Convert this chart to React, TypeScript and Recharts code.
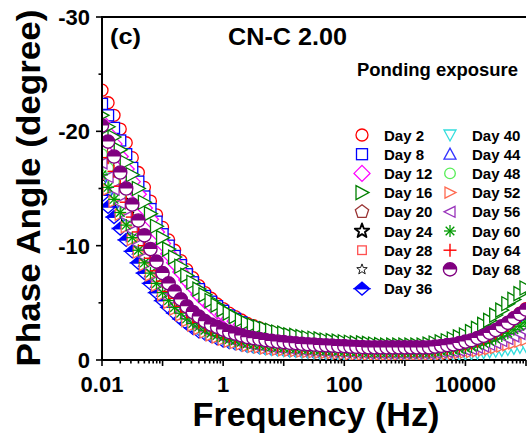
import { LineChart, Line, XAxis, YAxis, ReferenceLine } from 'recharts';

// frequency (Hz), 10 points per decade
const freq = [
  0.01, 0.0126, 0.0158, 0.02, 0.0251, 0.0316, 0.0398, 0.0501, 0.0631, 0.0794,
  0.1, 0.126, 0.158, 0.2, 0.251, 0.316, 0.398, 0.501, 0.631, 0.794,
  1, 1.26, 1.58, 2, 2.51, 3.16, 3.98, 5.01, 6.31, 7.94,
  10, 12.6, 15.8, 20, 25.1, 31.6, 39.8, 50.1, 63.1, 79.4,
  100, 126, 158, 200, 251, 316, 398, 501, 631, 794,
  1000, 1260, 1580, 2000, 2510, 3160, 3980, 5010, 6310, 7940,
  10000, 12600, 15800, 20000, 25100, 31600, 39800, 50100, 63100, 79400,
  100000,
];

// phase angle (degree)
const day2 = [
  -23.6, -22.5, -21.4, -20.2, -19.0, -17.7, -16.4, -15.1, -13.9, -12.7,
  -11.6, -10.5, -9.6, -8.7, -7.9, -7.2, -6.5, -5.9, -5.4, -4.9,
  -4.5, -4.1, -3.8, -3.5, -3.2, -3.0, -2.8, -2.6, -2.45, -2.3,
  -2.2, -2.05, -1.95, -1.85, -1.75, -1.65, -1.6, -1.5, -1.45, -1.4,
  -1.35, -1.3, -1.25, -1.2, -1.15, -1.1, -1.05, -1.0, -1.0, -1.0,
  -1.0, -1.0, -1.0, -1.0, -1.0, -1.07, -1.14, -1.21, -1.28, -1.4,
  -1.54, -1.67, -1.88, -2.09, -2.35, -2.61, -2.96, -3.28, -3.7, -4.1,
  -4.5,
];
const day8 = [
  -22.4, -21.4, -20.3, -19.2, -18.0, -16.8, -15.6, -14.3, -13.2, -12.1,
  -11.0, -10.0, -9.1, -8.3, -7.5, -6.8, -6.2, -5.6, -5.1, -4.7,
  -4.3, -3.9, -3.6, -3.3, -3.0, -2.85, -2.65, -2.5, -2.3, -2.2,
  -2.1, -1.95, -1.85, -1.75, -1.65, -1.55, -1.5, -1.4, -1.4, -1.35,
  -1.25, -1.25, -1.2, -1.15, -1.1, -1.05, -1.0, -0.95, -0.95, -0.95,
  -0.95, -0.95, -0.95, -0.95, -0.95, -1.01, -1.07, -1.13, -1.19, -1.3,
  -1.41, -1.52, -1.7, -1.88, -2.11, -2.33, -2.63, -2.9, -3.26, -3.61,
  -3.95,
];
const day12 = [
  -20.8, -19.8, -18.9, -17.8, -16.7, -15.6, -14.5, -13.3, -12.3, -11.2,
  -10.2, -9.3, -8.5, -7.7, -7.0, -6.4, -5.7, -5.2, -4.8, -4.3,
  -4.0, -3.6, -3.4, -3.1, -2.8, -2.65, -2.5, -2.3, -2.2, -2.05,
  -1.95, -1.8, -1.75, -1.65, -1.55, -1.5, -1.45, -1.35, -1.3, -1.25,
  -1.2, -1.15, -1.1, -1.1, -1.05, -1.0, -0.95, -0.9, -0.9, -0.9,
  -0.9, -0.9, -0.9, -0.9, -0.9, -0.96, -1.01, -1.07, -1.12, -1.22,
  -1.33, -1.43, -1.6, -1.77, -1.98, -2.19, -2.47, -2.72, -3.06, -3.38,
  -3.7,
];
const day16 = [
  -21.4, -20.4, -19.5, -18.4, -17.3, -16.2, -15.0, -13.8, -12.8, -11.7,
  -10.7, -9.7, -9.0, -8.2, -7.4, -6.8, -6.2, -5.7, -5.2, -4.8,
  -4.4, -4.1, -3.8, -3.5, -3.25, -3.05, -2.9, -2.75, -2.6, -2.45,
  -2.35, -2.2, -2.15, -2.05, -1.95, -1.9, -1.85, -1.75, -1.7, -1.65,
  -1.6, -1.55, -1.5, -1.5, -1.45, -1.4, -1.35, -1.3, -1.3, -1.3,
  -1.3, -1.3, -1.3, -1.3, -1.39, -1.49, -1.58, -1.68, -1.84, -2.02,
  -2.19, -2.48, -2.76, -3.11, -3.46, -3.93, -4.36, -4.92, -5.3, -5.8,
  -6.3,
];
const day20 = [
  -18.5, -17.2, -16.0, -14.7, -13.5, -12.2, -10.9, -9.7, -8.6, -7.6,
  -6.7, -5.8, -5.2, -4.6, -4.0, -3.6, -3.2, -2.9, -2.6, -2.35,
  -2.15, -1.97, -1.83, -1.69, -1.55, -1.47, -1.4, -1.31, -1.24, -1.19,
  -1.14, -1.09, -1.06, -1.0, -0.97, -0.94, -0.9, -0.87, -0.85, -0.82,
  -0.8, -0.77, -0.75, -0.73, -0.7, -0.7, -0.7, -0.7, -0.7, -0.7,
  -0.7, -0.7, -0.7, -0.7, -0.7, -0.75, -0.81, -0.86, -0.92, -1.01,
  -1.12, -1.21, -1.38, -1.54, -1.74, -1.94, -2.21, -2.46, -2.78, -3.09,
  -3.4,
];
const day24 = [
  -17.5, -16.3, -15.2, -13.9, -12.7, -11.5, -10.3, -9.1, -8.1, -7.2,
  -6.3, -5.5, -4.9, -4.3, -3.8, -3.4, -3.0, -2.7, -2.4, -2.2,
  -2.0, -1.82, -1.7, -1.56, -1.43, -1.35, -1.28, -1.2, -1.13, -1.08,
  -1.03, -0.98, -0.95, -0.9, -0.87, -0.83, -0.8, -0.77, -0.75, -0.72,
  -0.7, -0.67, -0.65, -0.63, -0.6, -0.6, -0.6, -0.6, -0.6, -0.6,
  -0.6, -0.6, -0.6, -0.6, -0.6, -0.65, -0.71, -0.76, -0.82, -0.91,
  -1.02, -1.11, -1.28, -1.44, -1.64, -1.84, -2.11, -2.36, -2.68, -2.99,
  -3.3,
];
const day28 = [
  -17.8, -16.6, -15.4, -14.2, -12.9, -11.7, -10.4, -9.3, -8.2, -7.3,
  -6.4, -5.6, -4.9, -4.3, -3.8, -3.4, -3.0, -2.7, -2.4, -2.2,
  -2.0, -1.83, -1.71, -1.57, -1.44, -1.35, -1.29, -1.2, -1.14, -1.09,
  -1.03, -0.98, -0.95, -0.9, -0.87, -0.83, -0.8, -0.77, -0.75, -0.72,
  -0.7, -0.67, -0.65, -0.63, -0.6, -0.6, -0.6, -0.6, -0.6, -0.6,
  -0.6, -0.6, -0.6, -0.6, -0.6, -0.64, -0.68, -0.72, -0.76, -0.83,
  -0.91, -0.98, -1.1, -1.22, -1.37, -1.52, -1.72, -1.9, -2.14, -2.37,
  -2.6,
];
const day32 = [
  -16.8, -15.6, -14.6, -13.4, -12.2, -11.0, -9.9, -8.8, -7.8, -6.9,
  -6.1, -5.3, -4.7, -4.1, -3.7, -3.3, -2.9, -2.6, -2.4, -2.1,
  -1.96, -1.79, -1.67, -1.53, -1.4, -1.33, -1.26, -1.18, -1.12, -1.07,
  -1.02, -0.98, -0.94, -0.89, -0.86, -0.83, -0.79, -0.77, -0.75, -0.72,
  -0.7, -0.67, -0.65, -0.63, -0.6, -0.6, -0.6, -0.6, -0.6, -0.6,
  -0.6, -0.6, -0.6, -0.6, -0.6, -0.65, -0.7, -0.75, -0.8, -0.89,
  -0.99, -1.08, -1.23, -1.38, -1.56, -1.75, -2.0, -2.23, -2.53, -2.81,
  -3.1,
];
const day36 = [
  -14.4, -13.4, -12.5, -11.5, -10.5, -9.5, -8.5, -7.6, -6.7, -5.9,
  -5.2, -4.6, -4.1, -3.6, -3.2, -2.8, -2.5, -2.3, -2.1, -1.9,
  -1.7, -1.57, -1.46, -1.35, -1.24, -1.17, -1.11, -1.04, -0.98, -0.94,
  -0.9, -0.85, -0.82, -0.78, -0.75, -0.72, -0.69, -0.66, -0.64, -0.61,
  -0.59, -0.55, -0.53, -0.52, -0.5, -0.5, -0.5, -0.5, -0.5, -0.5,
  -0.5, -0.5, -0.5, -0.5, -0.5, -0.55, -0.61, -0.66, -0.72, -0.81,
  -0.92, -1.01, -1.18, -1.34, -1.54, -1.74, -2.01, -2.26, -2.58, -2.89,
  -3.2,
];
const day40 = [
  -17.0, -15.8, -14.7, -13.5, -12.3, -11.1, -9.9, -8.8, -7.8, -6.8,
  -6.0, -5.2, -4.6, -4.0, -3.5, -3.1, -2.7, -2.4, -2.2, -2.0,
  -1.8, -1.61, -1.48, -1.35, -1.22, -1.14, -1.07, -0.99, -0.93, -0.88,
  -0.82, -0.78, -0.75, -0.69, -0.67, -0.63, -0.6, -0.57, -0.55, -0.51,
  -0.5, -0.45, -0.43, -0.42, -0.4, -0.4, -0.4, -0.4, -0.4, -0.4,
  -0.4, -0.4, -0.4, -0.4, -0.4, -0.42, -0.43, -0.45, -0.46, -0.49,
  -0.52, -0.55, -0.6, -0.65, -0.71, -0.77, -0.85, -0.92, -1.02, -1.11,
  -1.2,
];
const day44 = [
  -16.5, -15.4, -14.3, -13.2, -12.0, -10.8, -9.7, -8.6, -7.7, -6.8,
  -6.0, -5.2, -4.6, -4.1, -3.6, -3.2, -2.9, -2.6, -2.3, -2.1,
  -1.95, -1.77, -1.65, -1.52, -1.4, -1.32, -1.26, -1.17, -1.12, -1.07,
  -1.02, -0.97, -0.94, -0.89, -0.86, -0.83, -0.79, -0.76, -0.75, -0.72,
  -0.7, -0.67, -0.65, -0.63, -0.6, -0.6, -0.6, -0.6, -0.6, -0.6,
  -0.6, -0.6, -0.6, -0.6, -0.6, -0.64, -0.69, -0.73, -0.78, -0.85,
  -0.94, -1.02, -1.15, -1.28, -1.45, -1.61, -1.83, -2.03, -2.29, -2.55,
  -2.8,
];
const day48 = [
  -18.0, -16.8, -15.6, -14.4, -13.1, -11.8, -10.6, -9.4, -8.4, -7.4,
  -6.5, -5.7, -5.1, -4.5, -3.9, -3.5, -3.1, -2.8, -2.55, -2.3,
  -2.1, -1.94, -1.81, -1.68, -1.54, -1.46, -1.39, -1.3, -1.24, -1.19,
  -1.13, -1.09, -1.05, -1.0, -0.97, -0.93, -0.9, -0.87, -0.85, -0.82,
  -0.8, -0.77, -0.75, -0.73, -0.7, -0.7, -0.7, -0.7, -0.7, -0.7,
  -0.7, -0.7, -0.7, -0.7, -0.7, -0.75, -0.79, -0.84, -0.88, -0.96,
  -1.05, -1.14, -1.28, -1.41, -1.59, -1.76, -1.99, -2.2, -2.47, -2.74,
  -3.0,
];
const day52 = [
  -16.0, -14.9, -13.85, -12.7, -11.6, -10.5, -9.4, -8.3, -7.4, -6.5,
  -5.7, -5.0, -4.4, -3.9, -3.4, -3.0, -2.7, -2.4, -2.15, -1.95,
  -1.77, -1.6, -1.49, -1.36, -1.23, -1.16, -1.1, -1.02, -0.96, -0.91,
  -0.86, -0.82, -0.79, -0.74, -0.71, -0.68, -0.64, -0.62, -0.6, -0.56,
  -0.55, -0.5, -0.48, -0.47, -0.45, -0.45, -0.45, -0.45, -0.45, -0.45,
  -0.45, -0.45, -0.45, -0.45, -0.45, -0.48, -0.5, -0.53, -0.55, -0.6,
  -0.65, -0.7, -0.78, -0.85, -0.95, -1.05, -1.18, -1.3, -1.45, -1.6,
  -1.75,
];
const day56 = [
  -17.2, -16.0, -14.9, -13.7, -12.5, -11.3, -10.1, -9.0, -8.0, -7.0,
  -6.2, -5.4, -4.8, -4.2, -3.7, -3.3, -2.9, -2.6, -2.4, -2.2,
  -2.0, -1.81, -1.68, -1.55, -1.42, -1.34, -1.27, -1.19, -1.13, -1.08,
  -1.03, -0.98, -0.95, -0.89, -0.86, -0.83, -0.8, -0.77, -0.75, -0.72,
  -0.7, -0.67, -0.65, -0.63, -0.6, -0.6, -0.6, -0.6, -0.6, -0.6,
  -0.6, -0.6, -0.6, -0.6, -0.6, -0.64, -0.68, -0.71, -0.75, -0.82,
  -0.89, -0.96, -1.08, -1.19, -1.33, -1.47, -1.66, -1.84, -2.06, -2.28,
  -2.5,
];
const day60 = [
  -16.2, -15.1, -14.05, -12.9, -11.8, -10.7, -9.6, -8.5, -7.6, -6.7,
  -5.9, -5.2, -4.6, -4.1, -3.6, -3.2, -2.9, -2.6, -2.35, -2.15,
  -1.97, -1.8, -1.69, -1.56, -1.43, -1.36, -1.3, -1.22, -1.16, -1.11,
  -1.06, -1.02, -0.99, -0.94, -0.91, -0.88, -0.84, -0.82, -0.8, -0.77,
  -0.75, -0.72, -0.7, -0.68, -0.65, -0.65, -0.65, -0.65, -0.65, -0.65,
  -0.65, -0.65, -0.65, -0.65, -0.65, -0.7, -0.75, -0.81, -0.86, -0.95,
  -1.05, -1.14, -1.3, -1.46, -1.65, -1.85, -2.11, -2.34, -2.65, -2.95,
  -3.25,
];
const day64 = [
  -19.0, -17.7, -16.5, -15.2, -13.8, -12.5, -11.2, -10.0, -8.9, -7.8,
  -6.9, -6.0, -5.4, -4.7, -4.2, -3.75, -3.3, -3.0, -2.7, -2.5,
  -2.3, -2.09, -1.95, -1.81, -1.67, -1.58, -1.51, -1.42, -1.35, -1.3,
  -1.25, -1.19, -1.16, -1.11, -1.07, -1.04, -1.0, -0.97, -0.95, -0.92,
  -0.9, -0.87, -0.85, -0.83, -0.8, -0.8, -0.8, -0.8, -0.8, -0.8,
  -0.8, -0.8, -0.8, -0.8, -0.8, -0.87, -0.94, -1.0, -1.07, -1.19,
  -1.32, -1.45, -1.65, -1.85, -2.11, -2.36, -2.7, -3.01, -3.42, -3.81,
  -4.2,
];
const day68 = [
  -20.5, -19.1, -17.8, -16.4, -15.0, -13.6, -12.2, -10.9, -9.7, -8.6,
  -7.6, -6.7, -6.0, -5.3, -4.7, -4.2, -3.8, -3.4, -3.1, -2.9,
  -2.66, -2.45, -2.31, -2.15, -2.0, -1.91, -1.84, -1.74, -1.67, -1.62,
  -1.56, -1.51, -1.47, -1.41, -1.38, -1.35, -1.31, -1.28, -1.26, -1.22,
  -1.21, -1.17, -1.15, -1.13, -1.1, -1.1, -1.1, -1.1, -1.1, -1.1,
  -1.1, -1.1, -1.1, -1.1, -1.1, -1.17, -1.23, -1.3, -1.36, -1.48,
  -1.61, -1.73, -1.93, -2.12, -2.37, -2.62, -2.95, -3.25, -3.64, -4.02,
  -4.4,
];

const xLabelTicks = [0.01, 1, 100, 10000];
const yTicks = [-30, -25, -20, -15, -10, -5, 0];

type Kind =
  | 'circle' | 'square' | 'diamond' | 'triRight' | 'pentagon' | 'star' | 'squareSmall'
  | 'starSmall' | 'diamondHalf' | 'triDown' | 'triUp' | 'circleSmall' | 'triRightSmall'
  | 'triLeft' | 'asterisk' | 'plus' | 'circleHalf';

const seriesList: { key: string; label: string; data: number[]; kind: Kind; color: string }[] = [
  { key: 'd2', label: 'Day 2', data: day2, kind: 'circle', color: '#ff0000' },
  { key: 'd8', label: 'Day 8', data: day8, kind: 'square', color: '#0000ff' },
  { key: 'd12', label: 'Day 12', data: day12, kind: 'diamond', color: '#ff00ff' },
  { key: 'd16', label: 'Day 16', data: day16, kind: 'triRight', color: '#008000' },
  { key: 'd20', label: 'Day 20', data: day20, kind: 'pentagon', color: '#993333' },
  { key: 'd24', label: 'Day 24', data: day24, kind: 'star', color: '#000000' },
  { key: 'd28', label: 'Day 28', data: day28, kind: 'squareSmall', color: '#ff5050' },
  { key: 'd32', label: 'Day 32', data: day32, kind: 'starSmall', color: '#000000' },
  { key: 'd36', label: 'Day 36', data: day36, kind: 'diamondHalf', color: '#0000ff' },
  { key: 'd40', label: 'Day 40', data: day40, kind: 'triDown', color: '#33dddd' },
  { key: 'd44', label: 'Day 44', data: day44, kind: 'triUp', color: '#3333ff' },
  { key: 'd48', label: 'Day 48', data: day48, kind: 'circleSmall', color: '#55ee55' },
  { key: 'd52', label: 'Day 52', data: day52, kind: 'triRightSmall', color: '#ff6a50' },
  { key: 'd56', label: 'Day 56', data: day56, kind: 'triLeft', color: '#9933bb' },
  { key: 'd60', label: 'Day 60', data: day60, kind: 'asterisk', color: '#009900' },
  { key: 'd64', label: 'Day 64', data: day64, kind: 'plus', color: '#ff0000' },
  { key: 'd68', label: 'Day 68', data: day68, kind: 'circleHalf', color: '#800080' },
];

const rows = freq.map((f, i) => {
  const r: Record<string, number> = { f };
  seriesList.forEach((s) => {
    r[s.key] = s.data[i];
  });
  return r;
});

// all log ticks (1..9 x 10^n) between 0.01 and 1e5
const xTicks: number[] = [];
for (let d = -2; d < 5; d++) {
  for (let m = 1; m <= 9; m++) xTicks.push(Number((m * Math.pow(10, d)).toPrecision(3)));
}
xTicks.push(100000);

const FONT = "'Liberation Sans', Arial, sans-serif";
const CLIP = 'url(#plot-area-clip)';

const pts = (arr: number[][]) => arr.map((p) => `${p[0]},${p[1]}`).join(' ');

const starPts = (cx: number, cy: number, R: number, r: number) => {
  const out: number[][] = [];
  for (let k = 0; k < 10; k++) {
    const a = (-90 + k * 36) * (Math.PI / 180);
    const rr = k % 2 === 0 ? R : r;
    out.push([cx + rr * Math.cos(a), cy + rr * Math.sin(a)]);
  }
  return pts(out);
};

function drawMarker(kind: Kind, color: string, cx: number, cy: number, key?: string, clip?: string) {
  const sw = 1.3;
  const base = { fill: '#fff', stroke: color, strokeWidth: sw };
  let shape;
  switch (kind) {
    case 'circle':
      shape = <circle cx={cx} cy={cy} r={6} {...base} />;
      break;
    case 'circleSmall':
      shape = <circle cx={cx} cy={cy} r={5.3} {...base} />;
      break;
    case 'square':
      shape = <rect x={cx - 5.5} y={cy - 5.5} width={11} height={11} {...base} />;
      break;
    case 'squareSmall':
      shape = <rect x={cx - 4.3} y={cy - 4.3} width={8.6} height={8.6} {...base} />;
      break;
    case 'diamond':
      shape = <polygon points={pts([[cx, cy - 8], [cx + 8, cy], [cx, cy + 8], [cx - 8, cy]])} {...base} />;
      break;
    case 'triRight':
      shape = <polygon points={pts([[cx - 6, cy - 7], [cx + 7, cy], [cx - 6, cy + 7]])} {...base} />;
      break;
    case 'triRightSmall':
      shape = <polygon points={pts([[cx - 5, cy - 5.5], [cx + 6, cy], [cx - 5, cy + 5.5]])} {...base} />;
      break;
    case 'triLeft':
      shape = <polygon points={pts([[cx + 5, cy - 5.5], [cx - 6, cy], [cx + 5, cy + 5.5]])} {...base} />;
      break;
    case 'triDown':
      shape = <polygon points={pts([[cx - 6, cy - 5], [cx + 6, cy - 5], [cx, cy + 6]])} {...base} />;
      break;
    case 'triUp':
      shape = <polygon points={pts([[cx - 6, cy + 5], [cx + 6, cy + 5], [cx, cy - 6]])} {...base} />;
      break;
    case 'pentagon': {
      const p: number[][] = [];
      for (let k = 0; k < 5; k++) {
        const a = (-90 + k * 72) * (Math.PI / 180);
        p.push([cx + 7 * Math.cos(a), cy + 7 * Math.sin(a)]);
      }
      shape = <polygon points={pts(p)} {...base} />;
      break;
    }
    case 'star':
      shape = <polygon points={starPts(cx, cy, 7.5, 3.1)} fill="#fff" stroke={color} strokeWidth={1.9} strokeLinejoin="round" />;
      break;
    case 'starSmall':
      shape = <polygon points={starPts(cx, cy, 5.5, 2.3)} fill="#fff" stroke={color} strokeWidth={0.9} />;
      break;
    case 'diamondHalf':
      shape = (
        <>
          <polygon points={pts([[cx - 7.5, cy], [cx, cy + 6.5], [cx + 7.5, cy]])} fill="#fff" stroke={color} strokeWidth={sw} />
          <polygon points={pts([[cx - 7.5, cy], [cx, cy - 6.5], [cx + 7.5, cy]])} fill={color} stroke={color} strokeWidth={sw} />
        </>
      );
      break;
    case 'asterisk':
      shape = (
        <g stroke={color} strokeWidth={1.3}>
          <line x1={cx} y1={cy - 6} x2={cx} y2={cy + 6} />
          <line x1={cx - 6} y1={cy} x2={cx + 6} y2={cy} />
          <line x1={cx - 4.3} y1={cy - 4.3} x2={cx + 4.3} y2={cy + 4.3} />
          <line x1={cx - 4.3} y1={cy + 4.3} x2={cx + 4.3} y2={cy - 4.3} />
        </g>
      );
      break;
    case 'plus':
      shape = (
        <g stroke={color} strokeWidth={1.4}>
          <line x1={cx} y1={cy - 6.5} x2={cx} y2={cy + 6.5} />
          <line x1={cx - 6.5} y1={cy} x2={cx + 6.5} y2={cy} />
        </g>
      );
      break;
    case 'circleHalf':
      shape = (
        <>
          <circle cx={cx} cy={cy} r={6.6} fill="#fff" stroke={color} strokeWidth={1.4} />
          <path d={`M ${cx - 6.6} ${cy} A 6.6 6.6 0 0 1 ${cx + 6.6} ${cy} Z`} fill={color} />
        </>
      );
      break;
    default:
      shape = null;
  }
  return (
    <g key={key} clipPath={clip}>
      {shape}
    </g>
  );
}

const XTick = (props: any) => {
  const { x, y, payload } = props;
  const v = payload.value as number;
  const lg = Math.log10(v);
  const isDecade = Math.abs(lg - Math.round(lg)) < 1e-6;
  const labeled = xLabelTicks.some((t) => Math.abs(t - v) / t < 1e-6);
  return (
    <g>
      <line x1={x} x2={x} y1={y} y2={y + (isDecade ? 6 : 3.5)} stroke="#000" strokeWidth={1.6} />
      {labeled && (
        <text x={x} y={y + 32} textAnchor="middle" fontFamily={FONT} fontWeight="bold" fontSize={22} fill="#000">
          {String(v)}
        </text>
      )}
    </g>
  );
};

const YTick = (props: any) => {
  const { x, y, payload } = props;
  const v = payload.value as number;
  const major = v % 10 === 0;
  return (
    <g>
      <line x1={x - (major ? 6 : 3.5)} x2={x} y1={y} y2={y} stroke="#000" strokeWidth={1.6} />
      {major && (
        <text x={x - 12} y={y + 8} textAnchor="end" fontFamily={FONT} fontWeight="bold" fontSize={22} fill="#000">
          {String(v)}
        </text>
      )}
    </g>
  );
};

export default function App() {
  const left = seriesList.slice(0, 9);
  const right = seriesList.slice(9);
  return (
    <div style={{ position: 'fixed', left: 0, top: 0, width: 527, height: 440, background: '#fff', overflow: 'hidden' }}>
      <svg width={0} height={0} style={{ position: 'absolute' }}>
        <defs>
          <clipPath id="plot-area-clip">
            <rect x={102} y={17} width={425} height={343} />
          </clipPath>
        </defs>
      </svg>
      <LineChart width={527} height={440} data={rows} margin={{ top: 17, right: 1, left: 0, bottom: 0 }}>
        <XAxis
          dataKey="f"
          type="number"
          scale="log"
          domain={[0.01, 100000]}
          allowDataOverflow
          ticks={xTicks}
          interval={0}
          tick={XTick}
          tickLine={false}
          tickSize={0}
          tickMargin={0}
          axisLine={{ stroke: '#000', strokeWidth: 2 }}
          height={80}
        />
        <YAxis
          type="number"
          domain={[-30, 0]}
          reversed
          ticks={yTicks}
          interval={0}
          tick={YTick}
          tickLine={false}
          tickSize={0}
          tickMargin={0}
          axisLine={{ stroke: '#000', strokeWidth: 2 }}
          width={102}
        />
        <ReferenceLine y={-30} stroke="#000" strokeWidth={2} />
        {seriesList.map((s) => (
          <Line
            key={s.key}
            dataKey={s.key}
            stroke="none"
            isAnimationActive={false}
            activeDot={false}
            legendType="none"
            dot={(p: any) => drawMarker(s.kind, s.color, p.cx, p.cy, `${s.key}-${p.index}`, CLIP)}
          />
        ))}
      </LineChart>
      <svg width={527} height={440} style={{ position: 'absolute', left: 0, top: 0, pointerEvents: 'none' }}>
        <line x1={102} x2={102} y1={16} y2={361} stroke="#000" strokeWidth={2} />
        <g fontFamily={FONT} fontWeight="bold" fill="#000">
          <text transform="translate(40,188) rotate(-90)" textAnchor="middle" fontSize={33} textLength={357} lengthAdjust="spacingAndGlyphs">
            Phase Angle (degree)
          </text>
          <text x={316} y={426} textAnchor="middle" fontSize={33} textLength={247} lengthAdjust="spacingAndGlyphs">
            Frequency (Hz)
          </text>
          <text x={110} y={44} fontSize={22} textLength={31} lengthAdjust="spacingAndGlyphs">(c)</text>
          <text x={228} y={45} fontSize={24} textLength={119} lengthAdjust="spacingAndGlyphs">CN-C 2.00</text>
          <text x={357} y={76} fontSize={18} textLength={161} lengthAdjust="spacingAndGlyphs">Ponding exposure</text>
          {left.map((s, k) => (
            <g key={s.key}>
              {drawMarker(s.kind, s.color, 362, 135 + 19.2 * k)}
              <text x={384} y={135 + 19.2 * k + 5.5} fontSize={15}>{s.label}</text>
            </g>
          ))}
          {right.map((s, k) => (
            <g key={s.key}>
              {drawMarker(s.kind, s.color, 450, 135 + 19.2 * k)}
              <text x={472} y={135 + 19.2 * k + 5.5} fontSize={15}>{s.label}</text>
            </g>
          ))}
        </g>
      </svg>
    </div>
  );
}
